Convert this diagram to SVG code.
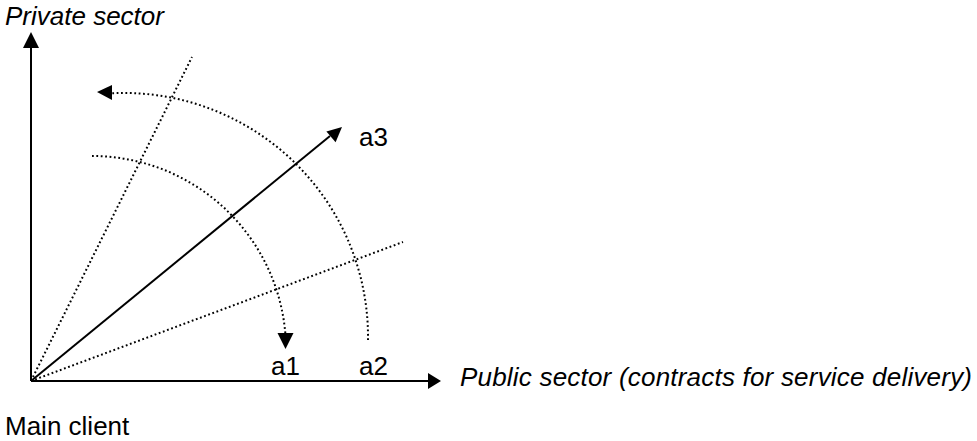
<svg xmlns="http://www.w3.org/2000/svg" width="977" height="441" viewBox="0 0 977 441">
<style>
text { font-family: "Liberation Sans", Arial, sans-serif; font-size: 26px; fill: #000; }
.it { font-style: italic; }
.solid { stroke: #000; stroke-width: 2; fill: none; }
.dot { stroke: #000; stroke-width: 2; fill: none; stroke-dasharray: 1.8 2.6; }
.head { fill: #000; stroke: none; }
</style>
<rect width="977" height="441" fill="#fff"/>
<g id="connectors">
  <line class="solid" x1="31" y1="381" x2="31" y2="46"/>
  <polygon class="head" points="31,32 23,48 39,48"/>
  <line class="solid" x1="31" y1="381" x2="428" y2="381"/>
  <polygon class="head" points="441,381 428,373 428,389"/>
  <line class="dot" x1="31" y1="381" x2="192" y2="57"/>
  <line class="dot" x1="31" y1="381" x2="403" y2="242"/>
  <line class="solid" x1="31" y1="381" x2="330" y2="136"/>
  <polygon class="head" points="342,127 326.4,131.5 335.6,142.3"/>
  <path class="dot" d="M92,156 A194,194 0 0 1 285.3,333"/>
  <polygon class="head" points="285.5,349 277.5,333 293.5,333"/>
  <path class="dot" d="M368,340 A244,244 0 0 0 112,93.3"/>
  <polygon class="head" points="97,92 112,85 112,100"/>
</g>
<g id="labels">
  <text class="it" x="5" y="25">Private sector</text>
  <text x="359" y="146">a3</text>
  <text x="271" y="375">a1</text>
  <text x="359" y="375">a2</text>
  <text class="it" x="460" y="386" textLength="512" lengthAdjust="spacing">Public sector (contracts for service delivery)</text>
  <text x="5" y="435">Main client</text>
</g>
</svg>
